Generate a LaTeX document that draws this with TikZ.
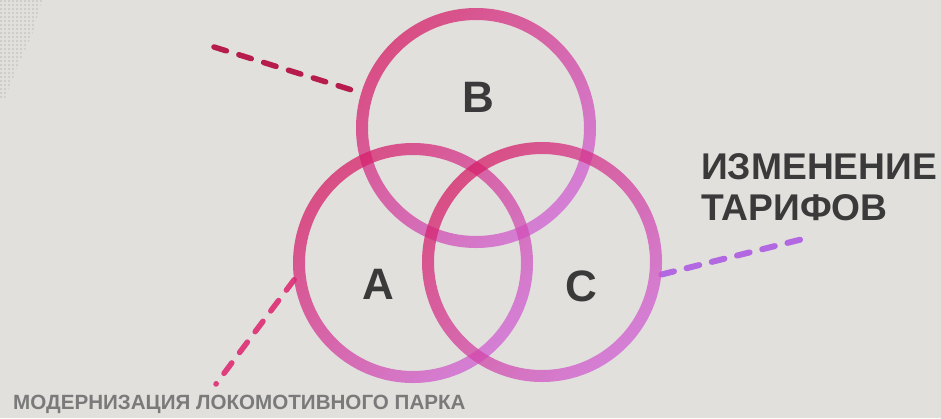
\documentclass[tikz,border=0pt]{standalone}
\usepackage{fontspec}
\setmainfont{Liberation Sans}
\definecolor{bgc}{RGB}{225,224,220}
\definecolor{dotc}{RGB}{200,200,198}
\definecolor{ringpink}{RGB}{214,30,102}
\definecolor{ringorchid}{RGB}{208,96,212}
\definecolor{dashcrimson}{RGB}{183,28,78}
\definecolor{dashviolet}{RGB}{178,104,224}
\definecolor{dashpink}{RGB}{222,62,126}
\definecolor{textdark}{RGB}{58,58,58}
\definecolor{textgray}{RGB}{122,122,122}
\begin{document}
\begin{tikzpicture}[x=1pt,y=-1pt,
  ring/.style={circle,minimum size=240pt,inner sep=0pt,outer sep=0pt},
  ringshade/.style={even odd rule,top color=ringpink,bottom color=ringorchid,shading angle=45,opacity=0.75},
  dashline/.style={line width=5.5pt,line cap=round,dash pattern=on 13pt off 13pt},
  letter/.style={font=\bfseries\fontsize{44}{44}\selectfont,text=textdark,inner sep=0pt},
  bigtext/.style={font=\bfseries\fontsize{37.2}{40}\selectfont,text=textdark,inner sep=0pt,anchor=base west},
  smalltext/.style={font=\bfseries\fontsize{20.6}{22}\selectfont,text=textgray,inner sep=0pt,anchor=base west}]
\fill[bgc] (0,0) rectangle (941,418);
\useasboundingbox (0,0) rectangle (941,418);
% halftone dots, top-left corner
\begin{scope}
\clip (0,0) -- (42,0) -- (32,35) -- (18,65) -- (5,98) -- (0,98) -- cycle;
\foreach \i in {0,...,10} \foreach \j in {0,...,24} \fill[dotc] (\i*4+1,\j*4+1) circle[radius=1.1pt];
\end{scope}
% circle nodes
\node[ring] (B) at (476,128) {};
\node[ring] (A) at (413,263) {};
\node[ring] (C) at (542,262) {};
% free ends of dashed leaders
\coordinate (e1) at (214,47);
\coordinate (e2) at (807,238);
\coordinate (e3) at (216,384);
\draw[dashline,dashcrimson] (e1) -- (B.163);
\draw[dashline,dashviolet,line width=6pt] (C.-6) -- (e2);
\draw[dashline,dashpink] (A.188) -- (e3);
% rings
\shade[ringshade] (B.center) circle[radius=120pt] (B.center) circle[radius=108pt];
\shade[ringshade] (A.center) circle[radius=120pt] (A.center) circle[radius=108pt];
\shade[ringshade] (C.center) circle[radius=120pt] (C.center) circle[radius=108pt];
% letters
\node[letter] (lb) at (478,97) {B};
\node[letter] (la) at (378,284) {A};
\node[letter] (lc) at (581,286) {C};
% texts
\node[bigtext] (t1) at (701,179) {ИЗМЕНЕНИЕ};
\node[bigtext] (t2) at (701,220) {ТАРИФОВ};
\node[smalltext] (t3) at (13,409.5) {МОДЕРНИЗАЦИЯ ЛОКОМОТИВНОГО ПАРКА};
\end{tikzpicture}
\end{document}
